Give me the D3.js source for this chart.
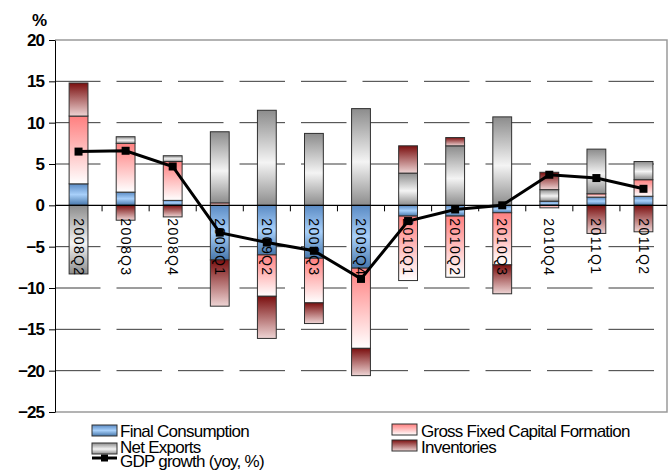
<!DOCTYPE html>
<html lang="en">
<head>
  <meta charset="UTF-8">
  <title>GDP growth contributions</title>
  <style>
    body {
      margin: 0;
      background: #fff;
      font-family: 'Liberation Sans', Arial, sans-serif;
    }
    .ytick { font-size: 17px; font-weight: bold; letter-spacing: -1px; }
    .cat { font-size: 14px; letter-spacing: 1.4px; }
    .leg { font-size: 17px; letter-spacing: -0.75px; }
  </style>
  <script src="https://d3js.org/d3.v7.min.js"></script>
</head>
<body>
  <svg id="chart" width="668" height="475"></svg>

  <script>
    const quarters = ["2008Q2", "2008Q3", "2008Q4", "2009Q1", "2009Q2", "2009Q3", "2009Q4",
                      "2010Q1", "2010Q2", "2010Q3", "2010Q4", "2011Q1", "2011Q2"];
    const finalConsumption = [2.6, 1.6, 0.6, -6.6, -6.0, -6.4, -7.6, -1.3, -1.3, -0.9, 0.5, 1.0, 1.1];
    const grossFixedCapital = [8.2, 5.9, 4.7, 0.3, -5.0, -5.4, -9.7, -7.8, -7.4, -6.3, -0.3, 0.4, 2.0];
    const netExports = [-8.3, 0.8, 0.7, 8.6, 11.5, 8.7, 11.7, 3.9, 7.2, 10.7, 1.4, 5.4, 2.2];
    const inventories = [4.0, -1.8, -1.4, -5.6, -5.1, -2.5, -3.3, 3.3, 1.0, -3.5, 2.1, -3.4, -3.2];
    const gdpGrowth = [6.5, 6.6, 4.7, -3.3, -4.5, -5.5, -8.9, -1.9, -0.5, 0.0, 3.7, 3.3, 2.0];
    const yTicks = [20, 15, 10, 5, 0, -5, -10, -15, -20, -25];

    const seriesNames = ["Final Consumption", "Gross Fixed Capital Formation", "Net Exports", "Inventories"];
    const seriesValues = [finalConsumption, grossFixedCapital, netExports, inventories];

    // rows for d3.stack
    const rows = quarters.map((q, i) => {
      const r = { q: q };
      seriesNames.forEach((s, k) => r[s] = seriesValues[k][i]);
      return r;
    });

    const svg = d3.select("#chart");
    const plotL = 55, plotR = 667, plotT = 40, plotB = 412;

    const x = d3.scaleBand().domain(quarters).range([plotL, plotR])
      .paddingInner(0.6).paddingOuter(0.3);
    const y = d3.scaleLinear().domain([-25, 20]).range([plotB, plotT]);
    const step = x.step();

    // gradients, one per series
    const defs = svg.append("defs");
    const grads = {
      "Final Consumption": [["0%", "#5b8bc4"], ["50%", "#a8d0fa"], ["100%", "#4676aa"]],
      "Gross Fixed Capital Formation": [["0%", "#ff7f7f"], ["100%", "#ffffff"]],
      "Net Exports": [["0%", "#8c8c8c"], ["55%", "#f4f4f4"], ["100%", "#8c8c8c"]],
      "Inventories": [["0%", "#7a0f0f"], ["100%", "#eed4d4"]]
    };
    const gid = {};
    seriesNames.forEach((s, k) => {
      gid[s] = "g" + k;
      const g = defs.append("linearGradient").attr("id", "g" + k)
        .attr("x1", 0).attr("y1", 0).attr("x2", 0).attr("y2", 1);
      grads[s].forEach(st => g.append("stop").attr("offset", st[0]).attr("stop-color", st[1]));
    });

    // gridlines
    svg.append("g").selectAll("line")
      .data(yTicks.filter(t => t !== 0 && t !== 20 && t !== -25))
      .join("line")
      .attr("x1", plotL).attr("x2", plotR)
      .attr("y1", d => y(d)).attr("y2", d => y(d))
      .attr("stroke", "#3a3a3a").attr("stroke-width", 1)
      .attr("stroke-dasharray", "45.5,16");

    // plot frame
    svg.append("path")
      .attr("d", `M${plotL},${plotT}H${plotR}V${plotB}H${plotL}`)
      .attr("fill", "none").attr("stroke", "#9a9a9a").attr("stroke-width", 1.5);

    // y axis
    const yAxis = svg.append("g")
      .attr("transform", `translate(${plotL},0)`)
      .call(d3.axisLeft(y).tickValues(yTicks).tickSize(6).tickSizeOuter(0).tickFormat(d3.format("d")));
    yAxis.select(".domain").attr("stroke", "#000");
    yAxis.selectAll(".tick line").attr("stroke", "#000");
    yAxis.selectAll(".tick text").attr("class", "ytick").attr("x", -11)
      .attr("fill", "#000").style("font-family", "'Liberation Sans', Arial, sans-serif");

    svg.append("text").attr("class", "ytick")
      .attr("x", 39).attr("y", 26).attr("text-anchor", "middle").text("%");

    // stacked bars
    const stack = d3.stack().keys(seriesNames).offset(d3.stackOffsetDiverging);
    const stacked = stack(rows);

    svg.append("g").selectAll("g")
      .data(stacked)
      .join("g")
      .attr("fill", d => `url(#${gid[d.key]})`)
      .selectAll("rect")
      .data(d => d.filter(p => p[1] - p[0] !== 0))
      .join("rect")
      .attr("x", d => x(d.data.q))
      .attr("width", x.bandwidth())
      .attr("y", d => y(d[1]))
      .attr("height", d => y(d[0]) - y(d[1]))
      .attr("stroke", "#303030").attr("stroke-width", 1);

    // zero line + category ticks
    svg.append("line")
      .attr("x1", plotL).attr("x2", plotR).attr("y1", y(0)).attr("y2", y(0))
      .attr("stroke", "#000").attr("stroke-width", 1.2);
    svg.append("g").selectAll("line")
      .data(quarters.slice(1))
      .join("line")
      .attr("x1", d => x(d) + x.bandwidth() / 2 - step / 2)
      .attr("x2", d => x(d) + x.bandwidth() / 2 - step / 2)
      .attr("y1", y(0)).attr("y2", y(0) + 6)
      .attr("stroke", "#000");

    // category labels, rotated
    svg.append("g").selectAll("text")
      .data(quarters)
      .join("text")
      .attr("class", "cat")
      .attr("transform", d => `translate(${x(d) + x.bandwidth() / 2},${y(0) + 13}) rotate(90)`)
      .attr("dy", "0.35em")
      .text(d => d);

    // GDP line
    const line = d3.line()
      .x((d, i) => x(quarters[i]) + x.bandwidth() / 2)
      .y(d => y(d));
    svg.append("path")
      .datum(gdpGrowth)
      .attr("d", line)
      .attr("fill", "none").attr("stroke", "#000").attr("stroke-width", 3);
    svg.append("g").selectAll("rect")
      .data(gdpGrowth)
      .join("rect")
      .attr("x", (d, i) => x(quarters[i]) + x.bandwidth() / 2 - 4)
      .attr("y", d => y(d) - 4)
      .attr("width", 8).attr("height", 8)
      .attr("fill", "#000");

    // legend
    const legendItems = [
      { name: "Final Consumption", sx: 92, sy: 425, tx: 120, ty: 437 },
      { name: "Gross Fixed Capital Formation", sx: 392, sy: 424, tx: 421, ty: 437 },
      { name: "Net Exports", sx: 92, sy: 443, tx: 120, ty: 453 },
      { name: "Inventories", sx: 392, sy: 440, tx: 421, ty: 453 }
    ];
    const lg = svg.append("g");
    legendItems.forEach(it => {
      lg.append("rect").attr("x", it.sx).attr("y", it.sy).attr("width", 25).attr("height", 11)
        .attr("fill", `url(#${gid[it.name]})`).attr("stroke", "#303030");
      lg.append("text").attr("class", "leg").attr("x", it.tx).attr("y", it.ty).text(it.name);
    });
    lg.append("line").attr("x1", 92).attr("x2", 117).attr("y1", 458).attr("y2", 458)
      .attr("stroke", "#000").attr("stroke-width", 3);
    lg.append("rect").attr("x", 101).attr("y", 454.5).attr("width", 7).attr("height", 7).attr("fill", "#000");
    lg.append("text").attr("class", "leg").attr("x", 120).attr("y", 467).text("GDP growth (yoy, %)");
  </script>
</body>
</html>
